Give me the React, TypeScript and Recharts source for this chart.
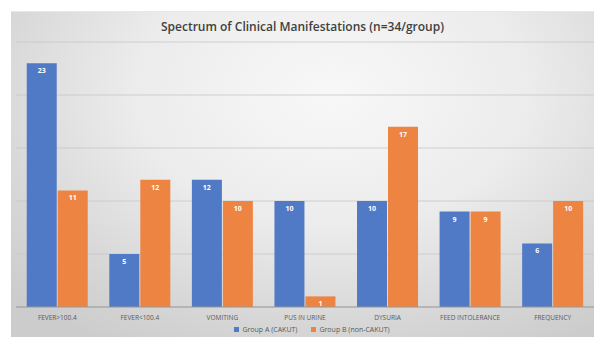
import React from 'react';
import { BarChart, Bar, XAxis, YAxis, CartesianGrid, Legend, LabelList } from 'recharts';

const categories = ['FEVER>100.4', 'FEVER<100.4', 'VOMITING', 'PUS IN URINE', 'DYSURIA', 'FEED INTOLERANCE', 'FREQUENCY'];
const groupA = [23, 5, 12, 10, 10, 9, 6];
const groupB = [11, 12, 10, 1, 17, 9, 10];
const yTicks = [0, 5, 10, 15, 20, 25];

const data = categories.map((c, i) => ({ name: c, a: groupA[i], b: groupB[i] }));

const FONT = 'Open Sans, Liberation Sans, sans-serif';

const renderLegend = (props: any) => {
  const { payload } = props;
  return (
    <div style={{ display: 'flex', justifyContent: 'center', alignItems: 'center', gap: 14, fontFamily: FONT, fontSize: 7, color: '#595959', height: 14, paddingLeft: 14 }}>
      {payload.map((p: any) => (
        <span key={p.value} style={{ display: 'flex', alignItems: 'center' }}>
          <span style={{ display: 'inline-block', width: 5, height: 5, background: p.color, marginRight: 3 }} />
          {p.value}
        </span>
      ))}
    </div>
  );
};

export default function App() {
  return (
    <div style={{ position: 'fixed', left: 0, top: 0, width: 594, height: 337, background: '#ffffff', overflow: 'hidden' }}>
      <div style={{ position: 'absolute', left: 11, top: 11, width: 583, height: 326, background: 'radial-gradient(ellipse 75% 90% at 55% 25%, #f8f8f8 0%, #ececec 45%, #d6d6d6 80%, #cccccc 100%)', borderTop: '1px solid #e8e8e8' }} />
      <div style={{ position: 'absolute', left: 11, width: 583, top: 18, textAlign: 'center', fontFamily: FONT, fontWeight: 600, fontSize: 12, color: '#404040' }}>
        Spectrum of Clinical Manifestations (n=34/group)
      </div>
      <div style={{ position: 'absolute', left: 0, top: 0 }}>
        <BarChart width={594} height={337} data={data} margin={{ top: 42, right: 0, left: 16, bottom: 1 }} barCategoryGap="13%" barGap={1}>
          <CartesianGrid vertical={false} stroke="#c6c6c6" strokeWidth={0.8} />
          <YAxis hide domain={[0, 25]} ticks={yTicks} />
          <XAxis dataKey="name" height={15} tickLine={false} axisLine={{ stroke: '#9a9a9a' }} tick={{ fontSize: 6.5, fill: '#595959', fontFamily: FONT }} tickMargin={2} interval={0} />
          <Legend verticalAlign="bottom" height={14} content={renderLegend} />
          <Bar dataKey="a" name="Group A (CAKUT)" fill="#5079C6" isAnimationActive={false}>
            <LabelList dataKey="a" position="insideTop" offset={5} fill="#ffffff" fontSize={7} fontWeight={700} fontFamily={FONT} />
          </Bar>
          <Bar dataKey="b" name="Group B (non-CAKUT)" fill="#ED8441" isAnimationActive={false}>
            <LabelList dataKey="b" position="insideTop" offset={5} fill="#ffffff" fontSize={7} fontWeight={700} fontFamily={FONT} />
          </Bar>
        </BarChart>
      </div>
    </div>
  );
}
